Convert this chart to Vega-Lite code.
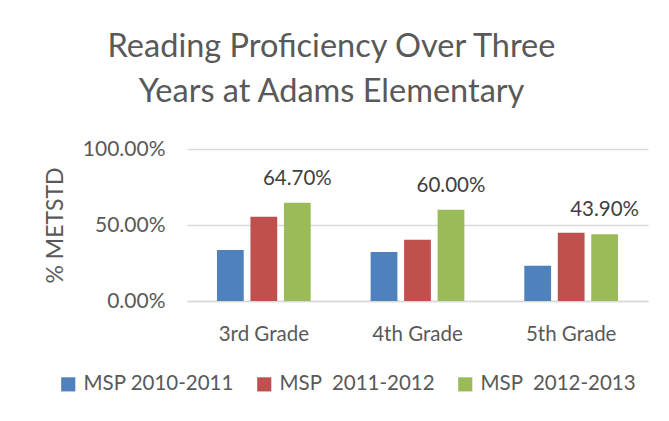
{
  "$schema": "https://vega.github.io/schema/vega-lite/v6.json",
  "width": 461,
  "height": 152,
  "autosize": {"type": "none"},
  "padding": {"left": 187, "top": 149, "right": 21, "bottom": 120},
  "background": "white",
  "title": {
    "text": ["Reading Proficiency Over Three", "Years at Adams Elementary"],
    "font": "Lato",
    "fontSize": 32.5,
    "fontWeight": "normal",
    "color": "#595959",
    "anchor": "middle",
    "dx": -86,
    "lineHeight": 45,
    "offset": 30
  },
  "config": {
    "view": {"stroke": null},
    "font": "Lato",
    "axis": {"labelColor": "#595959", "titleColor": "#595959", "labelFont": "Lato", "titleFont": "Lato"},
    "legend": {"labelFont": "Lato"}
  },
  "data": {
    "values": [
      {"Grade": "3rd Grade", "Series": "MSP 2010-2011", "Value": 0.336},
      {"Grade": "3rd Grade", "Series": "MSP  2011-2012", "Value": 0.555},
      {"Grade": "3rd Grade", "Series": "MSP  2012-2013", "Value": 0.647},
      {"Grade": "4th Grade", "Series": "MSP 2010-2011", "Value": 0.322},
      {"Grade": "4th Grade", "Series": "MSP  2011-2012", "Value": 0.403},
      {"Grade": "4th Grade", "Series": "MSP  2012-2013", "Value": 0.600},
      {"Grade": "5th Grade", "Series": "MSP 2010-2011", "Value": 0.232},
      {"Grade": "5th Grade", "Series": "MSP  2011-2012", "Value": 0.449},
      {"Grade": "5th Grade", "Series": "MSP  2012-2013", "Value": 0.439}
    ]
  },
  "encoding": {
    "x": {
      "field": "Grade",
      "type": "nominal",
      "sort": ["3rd Grade", "4th Grade", "5th Grade"],
      "scale": {"paddingInner": 0.39, "paddingOuter": 0.195},
      "axis": {
        "title": null,
        "labelAngle": 0,
        "domainColor": "#d9d9d9",
        "domainWidth": 1.5,
        "ticks": false,
        "tickSize": 0,
        "labelPadding": 23,
        "labelFontSize": 20.5
      }
    },
    "xOffset": {
      "field": "Series",
      "type": "nominal",
      "sort": ["MSP 2010-2011", "MSP  2011-2012", "MSP  2012-2013"],
      "scale": {"paddingInner": 0.2, "paddingOuter": 0}
    },
    "y": {
      "field": "Value",
      "type": "quantitative",
      "scale": {"domain": [0, 1]},
      "axis": {
        "title": "% METSTD",
        "format": ".2%",
        "values": [0, 0.5, 1],
        "domain": false,
        "ticks": false,
        "tickSize": 0,
        "labelPadding": 22,
        "gridColor": "#d9d9d9",
        "gridWidth": 1.5,
        "labelFontSize": 21,
        "titleFontSize": 23,
        "titleFontWeight": "normal",
        "titlePadding": 15
      }
    }
  },
  "layer": [
    {
      "mark": {"type": "bar"},
      "encoding": {
        "color": {
          "field": "Series",
          "type": "nominal",
          "scale": {
            "domain": ["MSP 2010-2011", "MSP  2011-2012", "MSP  2012-2013"],
            "range": ["#4F81BD", "#C0504D", "#9BBB59"]
          },
          "legend": {
            "title": null,
            "orient": "none",
            "direction": "horizontal",
            "columns": 3,
            "legendX": -129,
            "legendY": 225,
            "symbolType": "square",
            "symbolSize": 200,
            "symbolStrokeWidth": 0,
            "symbolOpacity": 1,
            "labelFontSize": 20.5,
            "labelColor": "#595959",
            "labelOffset": 5,
            "labelLimit": 300,
            "labelExpr": "replace(datum.label, '  ', '\u00a0 ')",
            "columnPadding": 20
          }
        }
      }
    },
    {
      "transform": [{"filter": "datum.Series == 'MSP  2012-2013'"}],
      "mark": {"type": "text", "baseline": "alphabetic", "dy": -18, "fontSize": 20.5, "color": "#404040", "font": "Lato"},
      "encoding": {
        "text": {"field": "Value", "type": "quantitative", "format": ".2%"}
      }
    }
  ]
}
